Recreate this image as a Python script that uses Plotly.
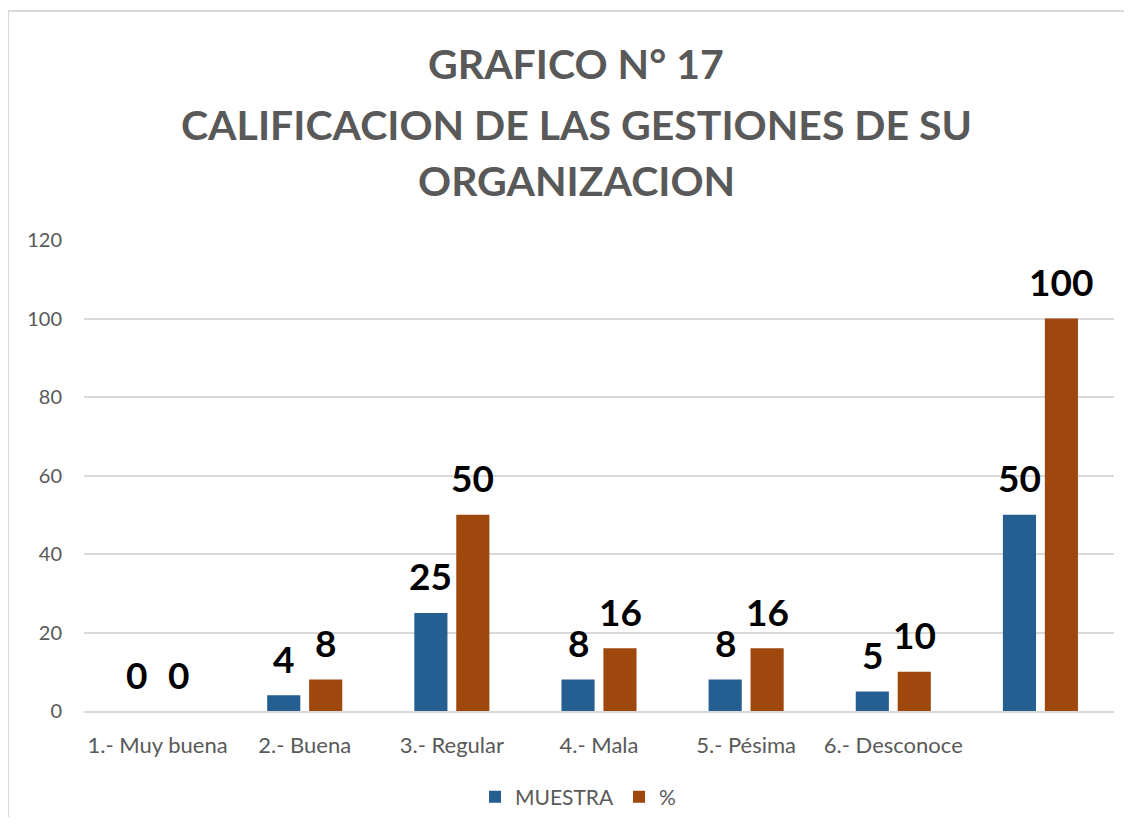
import plotly.graph_objects as go

categories = ["1.- Muy buena", "2.- Buena", "3.- Regular", "4.- Mala", "5.- Pésima", "6.- Desconoce", " "]
muestra = [0, 4, 25, 8, 8, 5, 50]
porcentaje = [0, 8, 50, 16, 16, 10, 100]
series_names = ["MUESTRA", "%"]
title_lines = ["GRAFICO N° 17", "CALIFICACION DE LAS GESTIONES DE SU", "ORGANIZACION"]
y_ticks = [0, 20, 40, 60, 80, 100, 120]

BLUE = "#255E91"
ORANGE = "#9E480E"
FONT = "Lato"

OFF = 8  # browser body margin
W, H = 1132 - 2 * OFF, 825 - 2 * OFF
ML, MT = 84 - OFF, 240 - OFF
PLOT_R, PLOT_B = 1114 - OFF, 711 - OFF
MR, MB = W - PLOT_R, H - PLOT_B
PW, PH = W - ML - MR, H - MT - MB


def ypaper(ypix):
    return (PLOT_B - (ypix - OFF)) / PH


def xpaper(xpix):
    return ((xpix - OFF) - ML) / PW


fig = go.Figure()
fig.add_trace(go.Bar(x=categories, y=muestra, name=series_names[0], marker_color=BLUE,
                     marker_line_width=0))
fig.add_trace(go.Bar(x=categories, y=porcentaje, name=series_names[1], marker_color=ORANGE,
                     marker_line_width=0))

annotations = []
# data labels
for vals, shift in ((muestra, -21), (porcentaje, 21)):
    for c, v in zip(categories, vals):
        annotations.append(dict(x=c, y=v, xref="x", yref="y", text=str(v), showarrow=False,
                                xshift=shift, yshift=37, yanchor="middle",
                                font=dict(family=FONT, size=37, color="#000000", weight="bold")))
# title lines
for line, ypix in zip(title_lines, (63, 124, 180)):
    annotations.append(dict(x=xpaper(576), y=ypaper(ypix), xref="paper", yref="paper",
                            text=line, showarrow=False, xanchor="center", yanchor="middle",
                            font=dict(family=FONT, size=41, color="#595959", weight="bold")))

fig.update_layout(
    width=W, height=H,
    margin=dict(l=ML, r=MR, t=MT, b=MB, autoexpand=False),
    paper_bgcolor="white", plot_bgcolor="white",
    barmode="group", bargap=0.43, bargroupgap=0.21,
    font=dict(family=FONT, size=19, color="#595959"),
    showlegend=True,
    legend=dict(orientation="h", x=xpaper(578), xanchor="center", y=ypaper(797), yanchor="middle",
                font=dict(family=FONT, size=21, color="#595959"), itemwidth=30,
                traceorder="normal"),
    annotations=annotations,
    shapes=[dict(type="rect", xref="paper", yref="paper",
                 x0=xpaper(8), x1=1.2, y0=-0.5, y1=ypaper(11),
                 line=dict(color="#D9D9D9", width=2), fillcolor="rgba(0,0,0,0)", layer="below")],
)
fig.update_xaxes(showgrid=False, showline=True, linecolor="#D9D9D9", linewidth=2,
                 ticks="", tickfont=dict(family=FONT, size=22, color="#595959"), ticklabelstandoff=14,
                 automargin=False)
fig.update_yaxes(range=[0, 120], tickvals=y_ticks, showgrid=True, gridcolor="#D9D9D9", gridwidth=2,
                 zeroline=False, showline=False, ticks="", automargin=False,
                 tickfont=dict(family=FONT, size=20, color="#595959"), ticklabelstandoff=21)

fig.write_html("out.html")
